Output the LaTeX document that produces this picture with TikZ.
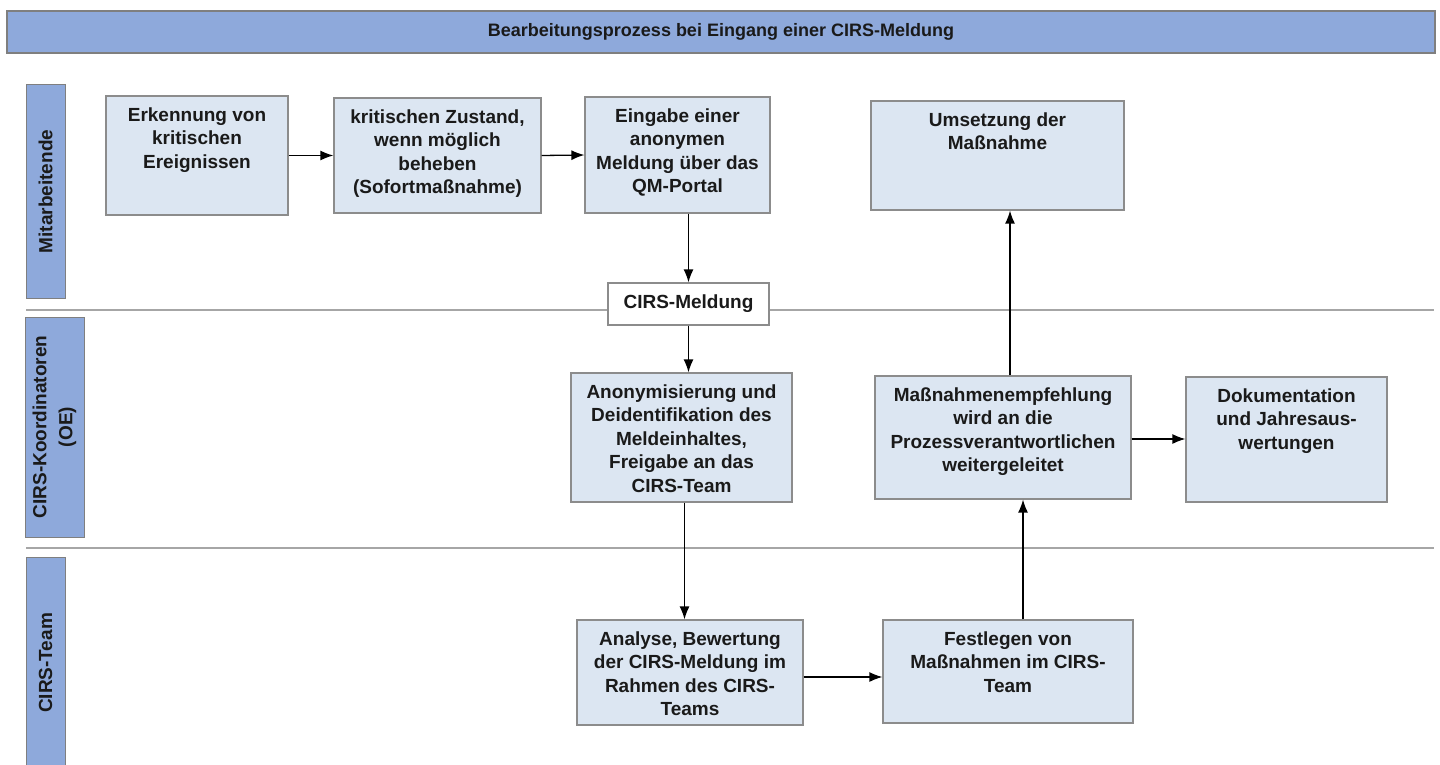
\documentclass[tikz,border=0pt]{standalone}
\usepackage{fontspec}
\setmainfont{Liberation Sans}
\usetikzlibrary{arrows.meta,calc}
\definecolor{boxfill}{HTML}{DCE6F2}
\definecolor{boxline}{HTML}{8C8C8C}
\definecolor{lanefill}{HTML}{8EA9DB}
\definecolor{laneline}{HTML}{7F7F7F}
\definecolor{sepline}{HTML}{A6A6A6}
\definecolor{txtcol}{HTML}{1A1A1A}
\begin{document}
\begin{tikzpicture}[x=1pt,y=-1pt,
  proc/.style={draw=boxline, fill=boxfill, line width=1.2pt, inner sep=0pt},
  plain/.style={draw=boxline, fill=white, line width=1.2pt, inner sep=0pt},
  txt/.style={align=center, font=\fontsize{19}{23.5}\selectfont\bfseries, inner sep=0pt, text=txtcol, anchor=north},
  lane/.style={draw=laneline, fill=lanefill, line width=1pt, inner sep=0pt},
  lanetxt/.style={align=center, font=\fontsize{19}{26}\selectfont\bfseries, inner sep=0pt, text=txtcol, rotate=90},
  sep/.style={draw=sepline, line width=1.6pt},
  arr/.style={draw=black, line width=1.3pt, -{Latex[length=13pt,width=10pt]}}
]
\useasboundingbox (0,0) rectangle (1440,765);
\fill[white] (0,0) rectangle (1440,765);

% title bar
\node[lane, draw=laneline, line width=1.2pt, minimum width=1428pt, minimum height=42pt] (title) at (721,32) {};
\node[font=\fontsize{18}{22}\selectfont\bfseries, text=txtcol, inner sep=0pt] (tt) at (title.center) {Bearbeitungsprozess bei Eingang einer CIRS-Meldung};

% lane labels
\node[lane, minimum width=39pt, minimum height=213pt] (l1) at (45.5,191.5) {};
\node[lanetxt] (l1t) at (l1.center) {Mitarbeitende};
\node[lane, minimum width=59pt, minimum height=220pt] (l2) at (54.5,427) {};
\node[lanetxt] (l2t) at (l2.center) {CIRS-Koordinatoren\\(OE)};
\node[lane, minimum width=39pt, minimum height=215pt] (l3) at (45.5,664.5) {};
\node[lanetxt] (l3t) at (45.5,663) {CIRS-Team};

% separators
\coordinate (s1a) at (26,310);
\coordinate (s1b) at (1434,310);
\coordinate (s2a) at (26,548);
\coordinate (s2b) at (1434,548);
\draw[sep] (s1a) -- (s1b);
\draw[sep] (s2a) -- (s2b);

% process boxes
\node[proc, minimum width=182pt, minimum height=119pt] (b1) at (197,155.5) {};
\node[txt] (t1) at ([yshift=-12pt]b1.north) {Erkennung von\\kritischen\\Ereignissen};
\node[proc, minimum width=207pt, minimum height=115pt] (b2) at (437.5,155.5) {};
\node[txt] (t2) at ([yshift=-12pt]b2.north) {kritischen Zustand,\\wenn möglich\\beheben\\(Sofortmaßnahme)};
\node[proc, minimum width=185pt, minimum height=116pt] (b3) at (677.5,155) {};
\node[txt] (t3) at ([yshift=-12pt]b3.north) {Eingabe einer\\anonymen\\Meldung über das\\QM-Portal};
\node[proc, minimum width=253pt, minimum height=109pt] (b4) at (997.5,155.5) {};
\node[txt] (t4) at ([yshift=-12pt]b4.north) {Umsetzung der\\Maßnahme};
\node[plain, minimum width=161pt, minimum height=42pt] (m) at (688.5,304) {};
\node[txt, anchor=center] (mt) at (m.center) {CIRS-Meldung};
\node[proc, minimum width=221pt, minimum height=129pt] (b5) at (681.5,437.5) {};
\node[txt] (t5) at ([yshift=-12pt]b5.north) {Anonymisierung und\\Deidentifikation des\\Meldeinhaltes,\\Freigabe an das\\CIRS-Team};
\node[proc, minimum width=256pt, minimum height=123pt] (b6) at (1003,437.5) {};
\node[txt] (t6) at ([yshift=-12pt]b6.north) {Maßnahmenempfehlung\\wird an die\\Prozessverantwortlichen\\weitergeleitet};
\node[proc, minimum width=201pt, minimum height=125pt] (b7) at (1286.5,439.5) {};
\node[txt] (t7) at ([yshift=-12pt]b7.north) {Dokumentation\\und Jahresaus-\\wertungen};
\node[proc, minimum width=226pt, minimum height=105pt] (b8) at (690,672.5) {};
\node[txt] (t8) at ([yshift=-12pt]b8.north) {Analyse, Bewertung\\der CIRS-Meldung im\\Rahmen des CIRS-\\Teams};
\node[proc, minimum width=250pt, minimum height=103pt] (b9) at (1008,671.5) {};
\node[txt] (t9) at ([yshift=-12pt]b9.north) {Festlegen von\\Maßnahmen im CIRS-\\Team};

% connectors
\draw[arr] (b1.east) -- (b2.west);
\draw[arr] (b2.east) -- (b3.west);
\draw[arr] (m.north |- b3.south) -- (m.north);
\draw[arr] (m.south) -- (m.south |- b5.north);
\draw[arr] ([xshift=3pt]b5.south) -- ([xshift=3pt]b5.south |- b8.north);
\draw[arr] ([yshift=-4.5pt]b8.east) -- ([yshift=-4.5pt]b8.east -| b9.west);
\draw[arr] ([xshift=15pt]b9.north) -- ([xshift=15pt]b9.north |- b6.south);
\draw[arr] ([xshift=7pt]b6.north) -- ([xshift=7pt]b6.north |- b4.south);
\draw[arr] ([yshift=-1.5pt]b6.east) -- ([yshift=-1.5pt]b6.east -| b7.west);
\end{tikzpicture}
\end{document}
